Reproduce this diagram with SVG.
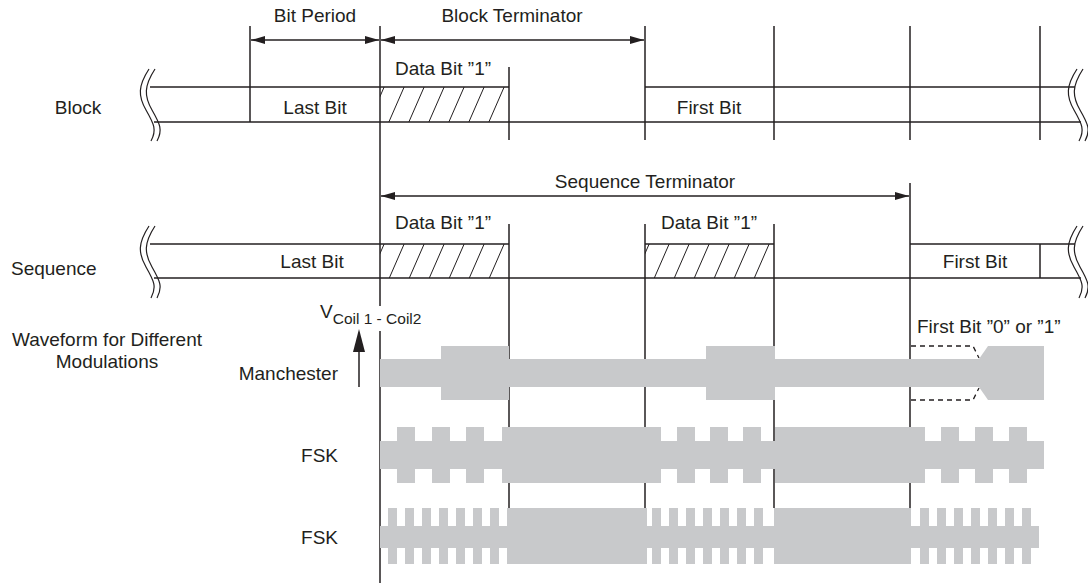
<svg xmlns="http://www.w3.org/2000/svg" width="1088" height="583" viewBox="0 0 1088 583">
<defs>
<style>
.t{font-family:"Liberation Sans",Arial,sans-serif;font-size:19px;fill:#231f20}
.m{text-anchor:middle}
.e{text-anchor:end}
.ln{stroke:#231f20;stroke-width:1.5;fill:none}
.dim{stroke:#231f20;stroke-width:1.3;fill:none;marker-start:url(#ah);marker-end:url(#ah)}
.brk{stroke:#231f20;stroke-width:1.2;fill:none}
.hat{stroke:#231f20;stroke-width:1}
.wf{fill:#c8c9cb}
.dash{stroke:#231f20;stroke-width:1.3;fill:none;stroke-dasharray:5 4}
</style>
<marker id="ah" markerUnits="userSpaceOnUse" markerWidth="14" markerHeight="8" refX="14" refY="4" orient="auto-start-reverse">
<path d="M0,0 L14,4 L0,8 z" fill="#231f20"/>
</marker>
<clipPath id="c1"><rect x="380" y="87" width="129" height="35"/></clipPath>
<clipPath id="c2"><rect x="380" y="244" width="129" height="34"/></clipPath>
<clipPath id="c3"><rect x="645" y="244" width="129" height="34"/></clipPath>
<g id="hatchA">
<line class="hat" x1="368" y1="124" x2="385" y2="85"/>
<line class="hat" x1="388" y1="124" x2="405" y2="85"/>
<line class="hat" x1="408" y1="124" x2="425" y2="85"/>
<line class="hat" x1="428" y1="124" x2="445" y2="85"/>
<line class="hat" x1="448" y1="124" x2="465" y2="85"/>
<line class="hat" x1="468" y1="124" x2="485" y2="85"/>
<line class="hat" x1="488" y1="124" x2="505" y2="85"/>
<line class="hat" x1="508" y1="124" x2="525" y2="85"/>
</g>
</defs>
<rect width="1088" height="583" fill="#fff"/>

<g id="connectors">
<line class="ln" x1="250" y1="26" x2="250" y2="122"/>
<line class="ln" x1="380" y1="26" x2="380" y2="306"/>
<line class="ln" x1="380" y1="331" x2="380" y2="583"/>
<line class="ln" x1="509" y1="67" x2="509" y2="140"/>
<line class="ln" x1="645" y1="26" x2="645" y2="140"/>
<line class="ln" x1="774" y1="26" x2="774" y2="140"/>
<line class="ln" x1="910" y1="26" x2="910" y2="140"/>
<line class="ln" x1="1040" y1="26" x2="1040" y2="140"/>
<line class="ln" x1="509" y1="224" x2="509" y2="508"/>
<line class="ln" x1="645" y1="224" x2="645" y2="508"/>
<line class="ln" x1="774" y1="224" x2="774" y2="508"/>
<line class="ln" x1="910" y1="183" x2="910" y2="508"/>
<line class="ln" x1="1040" y1="244" x2="1040" y2="278"/>
<line class="dim" x1="251" y1="40" x2="379" y2="40"/>
<line class="dim" x1="381" y1="40" x2="644" y2="40"/>
<line class="dim" x1="381" y1="196" x2="909" y2="196"/>
<line class="ln" x1="359" y1="350" x2="359" y2="387"/>
<polygon points="359,329 353,352 365,352" fill="#231f20"/>
<path class="dash" d="M911,346 H973 L979,358"/>
<path class="dash" d="M911,400 H973 L979,388"/>
</g>

<g id="block-row">
<line class="ln" x1="150" y1="87" x2="509" y2="87"/>
<line class="ln" x1="645" y1="87" x2="1075" y2="87"/>
<line class="ln" x1="154" y1="122" x2="1081" y2="122"/>
<g clip-path="url(#c1)"><use href="#hatchA"/></g>
<path class="brk" d="M149,69 C138,86 138,96 146,110 S157,130 151,141"/>
<path class="brk" d="M155,69 C144,86 144,96 152,110 S163,130 157,141"/>
<path class="brk" d="M1077,69 C1066,86 1066,96 1074,110 S1085,130 1079,141"/>
<path class="brk" d="M1083,69 C1072,86 1072,96 1080,110 S1091,130 1085,141"/>
</g>

<g id="sequence-row">
<line class="ln" x1="150" y1="244" x2="509" y2="244"/>
<line class="ln" x1="645" y1="244" x2="774" y2="244"/>
<line class="ln" x1="910" y1="244" x2="1075" y2="244"/>
<line class="ln" x1="154" y1="278" x2="1081" y2="278"/>
<g clip-path="url(#c2)"><use href="#hatchA" transform="translate(0,157)"/></g>
<g clip-path="url(#c3)"><use href="#hatchA" transform="translate(265,157)"/></g>
<path class="brk" d="M149,226 C138,243 138,253 146,267 S157,287 151,298"/>
<path class="brk" d="M155,226 C144,243 144,253 152,267 S163,287 157,298"/>
<path class="brk" d="M1077,226 C1066,243 1066,253 1074,267 S1085,287 1079,298"/>
<path class="brk" d="M1083,226 C1072,243 1072,253 1080,267 S1091,287 1085,298"/>
</g>

<g id="manchester">
<rect class="wf" x="380" y="359" width="600" height="28"/>
<rect class="wf" x="441" y="346" width="68" height="54"/>
<rect class="wf" x="706" y="346" width="69" height="54"/>
<polygon class="wf" points="979,359 988,346 1044,346 1044,400 988,400 979,387"/>
</g>

<g id="fsk1">
<rect class="wf" x="380" y="441" width="664" height="28"/>
<rect class="wf" x="502" y="427" width="159" height="56"/>
<rect class="wf" x="775" y="427" width="150" height="56"/>
<rect class="wf" x="397" y="427" width="18" height="56"/>
<rect class="wf" x="432" y="427" width="18" height="56"/>
<rect class="wf" x="466" y="427" width="18" height="56"/>
<rect class="wf" x="677" y="427" width="18" height="56"/>
<rect class="wf" x="710" y="427" width="18" height="56"/>
<rect class="wf" x="743" y="427" width="18" height="56"/>
<rect class="wf" x="941" y="427" width="18" height="56"/>
<rect class="wf" x="975" y="427" width="18" height="56"/>
<rect class="wf" x="1009" y="427" width="18" height="56"/>
</g>

<g id="fsk2">
<rect class="wf" x="380" y="526" width="659" height="22"/>
<rect class="wf" x="507" y="508" width="140" height="56"/>
<rect class="wf" x="774" y="508" width="137" height="56"/>
<rect class="wf" x="388" y="508" width="9" height="56"/>
<rect class="wf" x="405" y="508" width="9" height="56"/>
<rect class="wf" x="422" y="508" width="9" height="56"/>
<rect class="wf" x="439" y="508" width="9" height="56"/>
<rect class="wf" x="456" y="508" width="9" height="56"/>
<rect class="wf" x="473" y="508" width="9" height="56"/>
<rect class="wf" x="490" y="508" width="9" height="56"/>
<rect class="wf" x="652" y="508" width="9" height="56"/>
<rect class="wf" x="669" y="508" width="9" height="56"/>
<rect class="wf" x="686" y="508" width="9" height="56"/>
<rect class="wf" x="703" y="508" width="9" height="56"/>
<rect class="wf" x="720" y="508" width="9" height="56"/>
<rect class="wf" x="737" y="508" width="9" height="56"/>
<rect class="wf" x="754" y="508" width="9" height="56"/>
<rect class="wf" x="920" y="508" width="9" height="56"/>
<rect class="wf" x="937" y="508" width="9" height="56"/>
<rect class="wf" x="954" y="508" width="9" height="56"/>
<rect class="wf" x="971" y="508" width="9" height="56"/>
<rect class="wf" x="988" y="508" width="9" height="56"/>
<rect class="wf" x="1005" y="508" width="9" height="56"/>
<rect class="wf" x="1022" y="508" width="9" height="56"/>
</g>

<g id="labels">
<text class="t m" x="315" y="22">Bit Period</text>
<text class="t m" x="512" y="22">Block Terminator</text>
<text class="t m" x="443" y="75">Data Bit ”1”</text>
<text class="t m" x="78" y="114">Block</text>
<text class="t m" x="315" y="114">Last Bit</text>
<text class="t m" x="709" y="114">First Bit</text>
<text class="t m" x="645" y="188">Sequence Terminator</text>
<text class="t m" x="443" y="229">Data Bit ”1”</text>
<text class="t m" x="709" y="229">Data Bit ”1”</text>
<text class="t" x="11" y="275">Sequence</text>
<text class="t m" x="312" y="268">Last Bit</text>
<text class="t m" x="975" y="268">First Bit</text>
<text class="t m" x="107" y="346">Waveform for Different</text>
<text class="t m" x="107" y="368">Modulations</text>
<text class="t" x="320" y="318">V<tspan font-size="15.5" dy="6">Coil 1 - Coil2</tspan></text>
<text class="t" x="917" y="333">First Bit ”0” or ”1”</text>
<text class="t e" x="338" y="380">Manchester</text>
<text class="t e" x="338" y="462">FSK</text>
<text class="t e" x="338" y="544">FSK</text>
</g>
</svg>
